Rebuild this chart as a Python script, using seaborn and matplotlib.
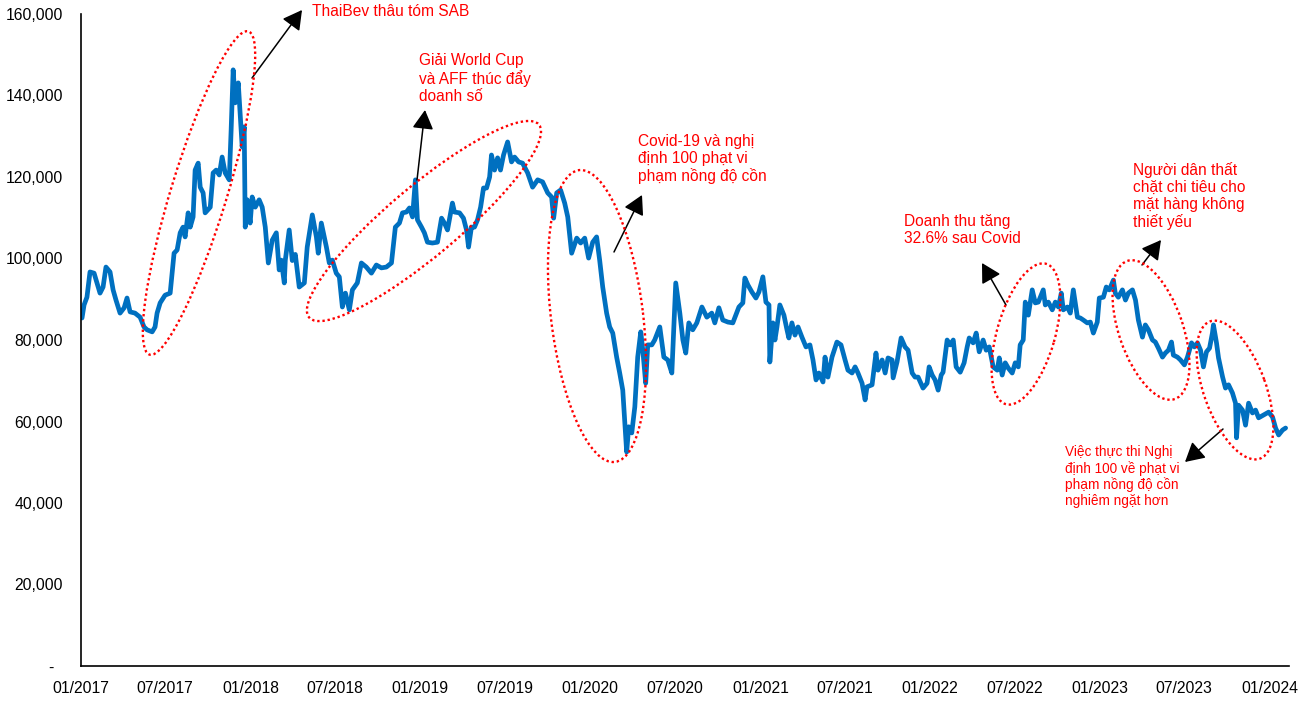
import matplotlib
matplotlib.use("Agg")
import matplotlib.pyplot as plt
import matplotlib.dates as mdates
import matplotlib.ticker as mticker
from matplotlib.patches import Ellipse
from matplotlib.transforms import IdentityTransform
from matplotlib import font_manager
import numpy as np
import pandas as pd
import seaborn as sns

# ---------------- data ----------------
years = [
2017.006,2017.018,2017.035,2017.053,2017.077,2017.094,2017.112,2017.130,2017.147,2017.171,
2017.189,2017.206,2017.230,2017.254,2017.271,2017.289,2017.318,2017.348,2017.371,2017.389,
2017.419,2017.436,2017.448,2017.466,2017.495,2017.525,2017.548,2017.566,2017.584,2017.601,
2017.613,2017.631,2017.643,2017.660,2017.672,2017.690,2017.702,2017.719,2017.731,2017.761,
2017.778,2017.796,2017.814,2017.831,2017.849,2017.873,2017.884,2017.896,2017.908,2017.926,
2017.937,2017.949,2017.961,2017.967,2017.979,2017.996,2018.008,2018.026,2018.049,2018.067,
2018.085,2018.103,2018.126,2018.150,2018.167,2018.179,2018.197,2018.203,2018.226,2018.244,
2018.262,2018.285,2018.315,2018.332,2018.362,2018.386,2018.397,2018.415,2018.445,2018.462,
2018.480,2018.503,2018.521,2018.539,2018.557,2018.580,2018.598,2018.627,2018.651,2018.680,
2018.710,2018.739,2018.769,2018.798,2018.828,2018.851,2018.875,2018.893,2018.916,2018.934,
2018.952,2018.969,2018.981,2019.005,2019.022,2019.040,2019.069,2019.099,2019.123,2019.140,
2019.158,2019.187,2019.199,2019.229,2019.252,2019.270,2019.282,2019.299,2019.317,2019.335,
2019.353,2019.370,2019.388,2019.406,2019.417,2019.435,2019.453,2019.470,2019.488,2019.512,
2019.535,2019.553,2019.577,2019.600,2019.630,2019.659,2019.689,2019.718,2019.748,2019.771,
2019.783,2019.801,2019.824,2019.848,2019.866,2019.889,2019.919,2019.942,2019.966,2019.989,
2020.013,2020.036,2020.054,2020.072,2020.095,2020.113,2020.131,2020.154,2020.172,2020.190,
2020.207,2020.213,2020.225,2020.243,2020.261,2020.278,2020.296,2020.308,2020.325,2020.337,
2020.361,2020.378,2020.408,2020.432,2020.455,2020.479,2020.502,2020.526,2020.544,2020.561,
2020.579,2020.602,2020.626,2020.656,2020.685,2020.714,2020.732,2020.756,2020.779,2020.809,
2020.838,2020.874,2020.897,2020.909,2020.927,2020.950,2020.974,2020.992,2021.015,2021.033,
2021.051,2021.056,2021.074,2021.086,2021.098,2021.115,2021.139,2021.157,2021.168,2021.186,
2021.204,2021.222,2021.245,2021.269,2021.292,2021.310,2021.328,2021.345,2021.369,2021.381,
2021.398,2021.422,2021.451,2021.475,2021.499,2021.516,2021.540,2021.558,2021.575,2021.599,
2021.617,2021.628,2021.658,2021.681,2021.693,2021.717,2021.735,2021.752,2021.776,2021.782,
2021.805,2021.829,2021.852,2021.870,2021.894,2021.911,2021.929,2021.958,2021.982,2021.994,
2022.012,2022.029,2022.047,2022.065,2022.076,2022.100,2022.118,2022.136,2022.153,2022.177,
2022.200,2022.218,2022.230,2022.253,2022.271,2022.289,2022.312,2022.330,2022.348,2022.371,
2022.395,2022.407,2022.424,2022.442,2022.460,2022.483,2022.501,2022.519,2022.530,2022.548,
2022.560,2022.578,2022.601,2022.619,2022.637,2022.666,2022.678,2022.696,2022.719,2022.737,
2022.755,2022.772,2022.784,2022.808,2022.825,2022.843,2022.867,2022.884,2022.902,2022.925,
2022.943,2022.961,2022.984,2022.996,2023.020,2023.037,2023.055,2023.079,2023.090,2023.108,
2023.132,2023.150,2023.167,2023.191,2023.209,2023.226,2023.250,2023.267,2023.285,2023.309,
2023.326,2023.344,2023.368,2023.385,2023.403,2023.421,2023.432,2023.456,2023.474,2023.497,
2023.515,2023.539,2023.556,2023.574,2023.592,2023.609,2023.627,2023.645,2023.662,2023.668,
2023.686,2023.698,2023.722,2023.739,2023.757,2023.780,2023.798,2023.804,2023.816,2023.839,
2023.857,2023.875,2023.898,2023.916,2023.934,2023.963,2023.993,2024.016,2024.034,2024.052,
2024.075,2024.093]

price = [
85400,88600,90500,96700,96400,94000,91500,93000,97900,96700,
92300,89800,86600,87900,90300,86900,86600,85600,83200,82500,
82000,83200,86600,89100,91000,91500,101300,102100,106300,107700,
105300,111200,107700,110200,121700,123400,117500,116100,111200,112600,
121000,121700,120500,124900,121000,119300,131500,146300,138200,143100,
135700,127400,132300,107700,114400,108700,115100,112600,114400,112600,
107700,98900,104500,106300,97200,99600,94000,99600,107000,99500,
101000,93000,94000,102800,110700,105300,101300,108700,102800,98900,
99600,96400,95500,88100,91500,87400,92300,94000,98900,97900,
96400,98400,97700,97900,98900,107700,108700,111200,111400,112400,
110200,119300,109500,107700,106300,104000,103800,104000,109900,108700,
107000,113600,111400,111200,109900,107000,102800,107700,107700,109500,
112600,117300,117300,120000,125400,121700,124700,121700,125400,128600,
123700,124900,123700,123400,121000,117500,119300,118800,116100,115100,
109900,116100,116800,113600,110200,101300,105000,103800,105000,100100,
104000,105300,99600,93000,86600,83200,81700,75800,71900,67700,
56200,52500,58700,57200,63600,75800,82000,77500,69400,78800,
78800,80000,83200,75800,75100,71900,94000,86600,80000,76800,
84200,82500,84200,88100,85600,86600,84200,87900,84900,84400,
84200,88100,89100,95200,93500,91800,90300,91800,95500,89300,
88600,74600,84200,80000,83200,88600,86100,82500,80500,84200,
81200,83200,80700,78300,78800,75100,70200,71900,69700,75800,
70900,75800,79500,78800,75100,72600,71900,73400,71900,69400,
65300,68500,69000,76800,72600,75100,71900,75600,75100,70700,
74600,80500,78300,77500,71900,70900,70900,68200,69400,73400,
71400,70200,67700,71400,72100,80000,78800,80000,73400,72100,
74400,78300,80500,79300,81700,77100,80000,77500,78300,73400,
72600,75600,71400,74400,73100,71900,74400,73400,78800,80000,
89300,86100,92300,89100,89300,92300,88600,89300,87400,89300,
88100,91500,87400,88100,86600,92300,85600,85400,84900,84200,
84400,81700,84400,90300,90500,93000,92300,94700,91500,90500,
92300,89800,91500,92300,89800,84900,80700,83700,82500,80000,
79500,78000,75800,76800,77500,79500,76300,75800,75100,73900,
75800,79300,78300,79300,77500,73400,77100,78000,81700,83700,
79300,75600,70900,68200,69000,67000,64500,56000,64000,62800,
59100,64500,62100,62800,60900,61600,62300,61100,58400,56700,
57900,58400]

y_ticks = [0, 20000, 40000, 60000, 80000, 100000, 120000, 140000, 160000]
x_start, x_end = "2017-01-01", "2024-02-12"

notes = [
    "ThaiBev thâu tóm SAB",
    "Giải World Cup\nvà AFF thúc đẩy\ndoanh số",
    "Covid-19 và nghị\nđịnh 100 phạt vi\nphạm nồng độ cồn",
    "Doanh thu tăng\n32.6% sau Covid",
    "Người dân thất\nchặt chi tiêu cho\nmặt hàng không\nthiết yếu",
    "Việc thực thi Nghị\nđịnh 100 về phạt vi\nphạm nồng độ cồn\nnghiêm ngặt hơn",
]

# ---------------- build dataframe ----------------
base = pd.Timestamp("2017-01-01")
yr = np.array(years)
dates = [base + pd.Timedelta(days=float((y - 2017.0) * 365.25)) for y in yr]
df = pd.DataFrame({"date": dates, "price": price})

# ---------------- style ----------------
sns.set_style("white")
plt.rcParams["font.family"] = ["Liberation Sans", "DejaVu Sans"]
names = {f.name for f in font_manager.fontManager.ttflist}
narrow = "Liberation Sans Narrow" if "Liberation Sans Narrow" in names else "Liberation Sans"

W, H = 1307, 706
fig = plt.figure(figsize=(W / 100, H / 100), dpi=100)
fig.patch.set_facecolor("white")
ax = fig.add_axes([81 / W, (H - 666) / H, (1289 - 81) / W, (666 - 14) / H])
ax.set_facecolor("white")

sns.lineplot(data=df, x="date", y="price", ax=ax, color="#0070C0",
             linewidth=3.4, estimator=None, sort=True)

ax.set_xlim(pd.Timestamp(x_start), pd.Timestamp(x_end))
ax.set_ylim(0, 160000)
ax.set_yticks(y_ticks)
ax.yaxis.set_major_formatter(mticker.FuncFormatter(
    lambda v, p: "-  " if v == 0 else f"{v:,.0f}"))
ax.xaxis.set_major_locator(mdates.MonthLocator(bymonth=[1, 7]))
ax.xaxis.set_major_formatter(mdates.DateFormatter("%m/%Y"))
ax.set_xlabel("")
ax.set_ylabel("")
for s in ["top", "right"]:
    ax.spines[s].set_visible(False)
for s in ["left", "bottom"]:
    ax.spines[s].set_color("black")
    ax.spines[s].set_linewidth(1.2)
ax.tick_params(axis="both", direction="out", length=5, width=1.2, color="black",
               labelsize=11.3, labelcolor="black")
ax.tick_params(axis="y", pad=8)
ax.tick_params(axis="x", pad=6)
ax.grid(False)

# ---------------- annotations (pixel coordinates of the canvas) ----------------
def px(x, y):
    return (x, H - y)

red = "#FF0000"
ell_specs = [  # center (img px), width, height, angle
    ((199, 193), 338, 56, 73),
    ((424, 221), 300, 70, 40),
    ((597, 316), 294, 92, 97),
    ((1026, 334), 146, 58, 74),
    ((1151, 330), 146, 64, 109),
    ((1235, 390), 146, 62, 110),
]
for (c, w, h, a) in ell_specs:
    e = Ellipse(px(*c), w, h, angle=a, transform=IdentityTransform(),
                fill=False, edgecolor=red, linewidth=1.7, linestyle=(0, (1, 1.2)))
    fig.add_artist(e)

arrow_specs = [  # tail, tip (img px)
    ((252, 78), (302, 10)),
    ((417, 180), (425, 110)),
    ((614, 252), (642, 195)),
    ((1006, 305), (982, 263)),
    ((1142, 265), (1161, 240)),
    ((1223, 429), (1185, 462)),
]
for tail, tip in arrow_specs:
    ax.annotate("", xy=px(*tip), xycoords="figure pixels",
                xytext=px(*tail), textcoords="figure pixels",
                arrowprops=dict(arrowstyle="-|>,head_length=0.45,head_width=0.25",
                                mutation_scale=26, color="black", lw=1.1,
                                shrinkA=0, shrinkB=0))

text_specs = [  # left x, top y (img px), va, size, family
    (312, 12, "center", 11.2, "Liberation Sans"),
    (419, 53, "top", 11.2, "Liberation Sans"),
    (638, 134, "top", 11.2, "Liberation Sans"),
    (904, 214, "top", 11.2, "Liberation Sans"),
    (1133, 162, "top", 11.2, "Liberation Sans"),
    (1065, 445, "top", 11.0 if narrow != "Liberation Sans" else 9.8, narrow),
]
for note, (x, y, va, size, fam) in zip(notes, text_specs):
    fig.text(x / W, (H - y) / H, note, ha="left", va=va, fontsize=size,
             color=red, family=[fam, "DejaVu Sans"], linespacing=1.15)

fig.savefig("out.png", dpi=100, facecolor="white")
